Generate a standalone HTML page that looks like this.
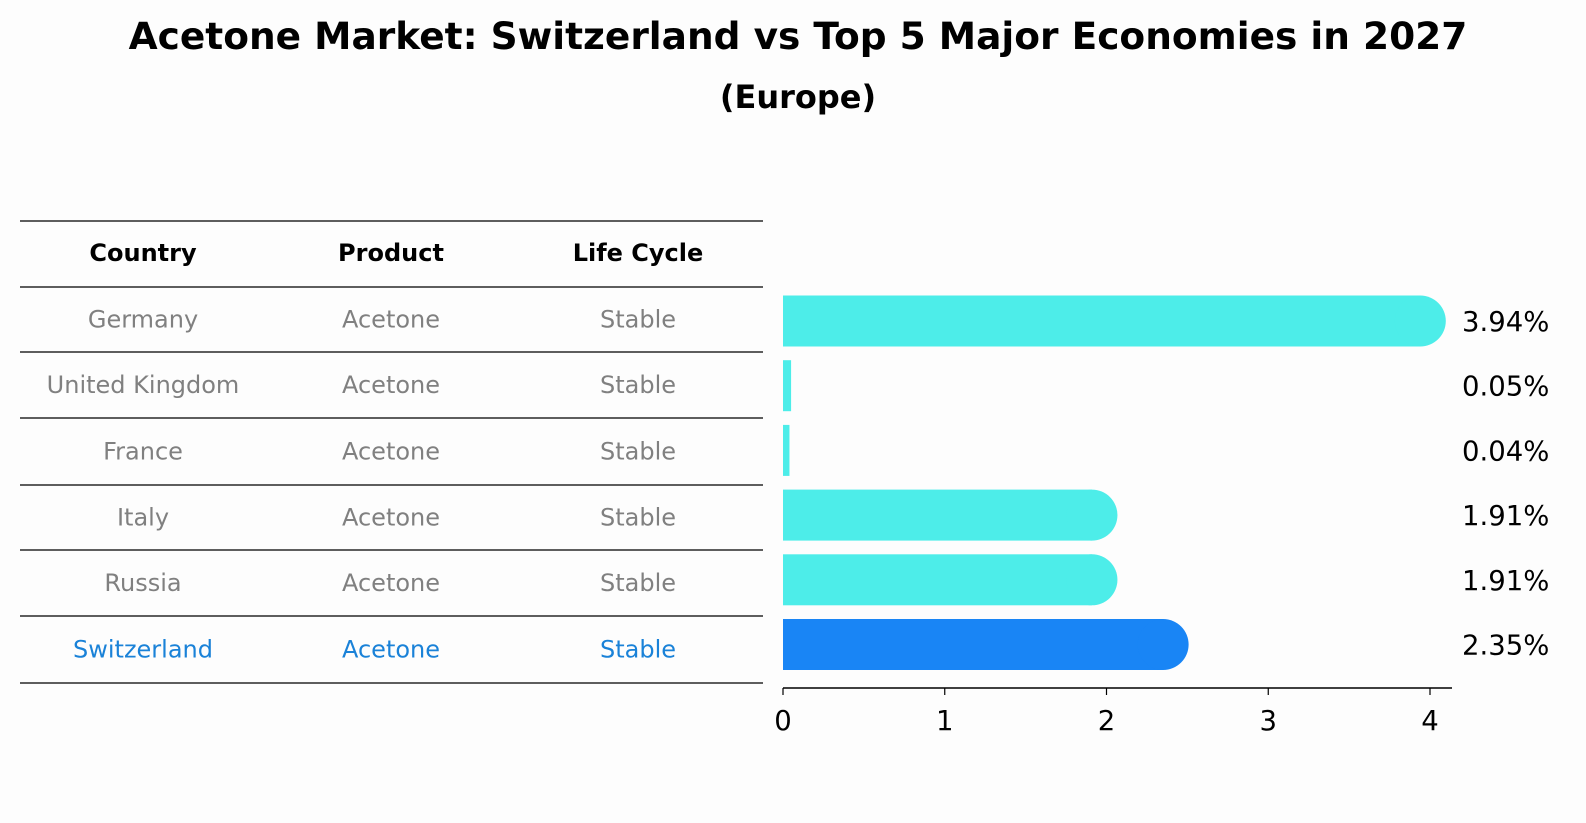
<!DOCTYPE html>
<html><head><meta charset="utf-8"><style>
body{margin:0;background:#fdfdfd;}
svg{display:block;font-family:"DejaVu Sans","Liberation Sans",sans-serif;}
</style></head><body>
<svg id="c" width="1586" height="823" viewBox="0 0 1586 823">
<rect width="1586" height="823" fill="#fdfdfd"/>
<text x="798" y="49" text-anchor="middle" font-size="37.5" font-weight="bold">Acetone Market: Switzerland vs Top 5 Major Economies in 2027</text>
<text x="798" y="108" text-anchor="middle" font-size="32" font-weight="bold">(Europe)</text>
<g id="table"></g>
<g id="bars"></g>
</svg>
<script>
const countries=["Germany","United Kingdom","France","Italy","Russia","Switzerland"];
const products=["Acetone","Acetone","Acetone","Acetone","Acetone","Acetone"];
const lifecycle=["Stable","Stable","Stable","Stable","Stable","Stable"];
const values=[3.94,0.05,0.04,1.91,1.91,2.35];
const valueLabels=["3.94%","0.05%","0.04%","1.91%","1.91%","2.35%"];
const xTicks=[0,1,2,3,4];

const NS="http://www.w3.org/2000/svg";
function mk(t,a,p){const e=document.createElementNS(NS,t);for(const k in a)e.setAttribute(k,a[k]);p.appendChild(e);return e;}
const tbl=document.getElementById('table'),bars=document.getElementById('bars');
const lineYs=[221,287,352,418,485,550,616,683];
const colX=[143,391,638];
const FS=24;
lineYs.forEach((y,i)=>{const l=mk('line',{x1:20,x2:763,y1:y,y2:y,stroke:'#000','stroke-width':1.2},tbl);

});
["Country","Product","Life Cycle"].forEach((h,j)=>{const t=mk('text',{x:colX[j],y:261,'text-anchor':'middle','font-size':FS,'font-weight':'bold'},tbl);t.textContent=h;

});
countries.forEach((c,i)=>{const y=(lineYs[i+1]+lineYs[i+2])/2+8;const col=c==="Switzerland"?"#1a82d8":"#808080";
[c,products[i],lifecycle[i]].forEach((v,j)=>{const t=mk('text',{x:colX[j],y:y,'text-anchor':'middle','font-size':FS,fill:col},tbl);t.textContent=v;

});});
const x0=783,unit=161.75;const xs=v=>x0+v*unit;
const rowY=i=>321+i*64.7;const bh=51,r=25.5;
values.forEach((v,i)=>{const cy=rowY(i);const xe=xs(v);const col=countries[i]==="Switzerland"?"#1985f5":"#4dede9";
const g=mk('g',{},bars);


mk('rect',{x:x0,y:cy-bh/2,width:Math.max(xe-x0,1),height:bh,fill:col},g);
if(xe-x0>r) mk('circle',{cx:xe,cy:cy,r:r,fill:col},g);
const t=mk('text',{x:1462,y:cy+10,'font-size':27.5},bars);t.textContent=valueLabels[i];

});
const ax=mk('line',{x1:x0,x2:1452,y1:688,y2:688,stroke:'#000','stroke-width':1.5},bars);


xTicks.forEach(v=>{mk('line',{x1:xs(v),x2:xs(v),y1:688,y2:695,stroke:'#000','stroke-width':1.2},bars);
const t=mk('text',{x:xs(v),y:730,'text-anchor':'middle','font-size':27.5},bars);t.textContent=v;

});
</script>
</body></html>
